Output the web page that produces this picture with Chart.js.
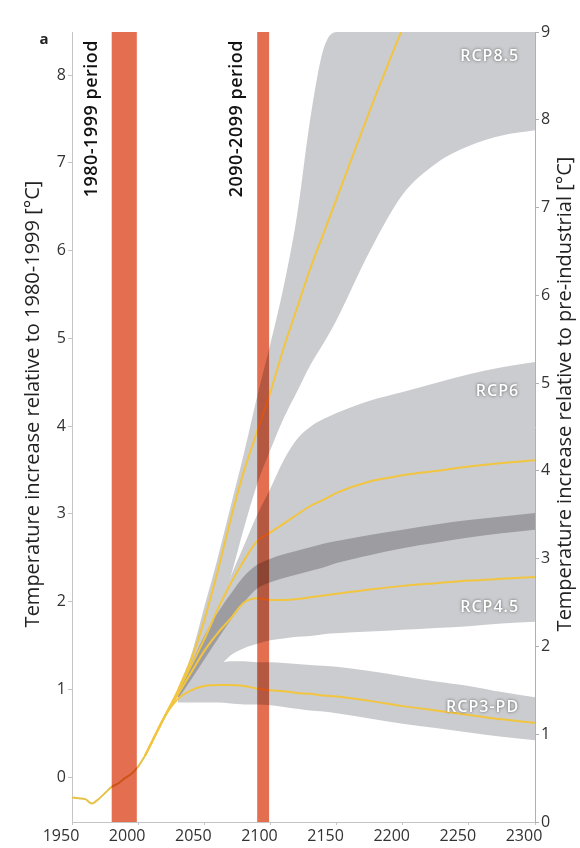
<!DOCTYPE html>
<html><head><meta charset="utf-8">
<script src="https://cdn.jsdelivr.net/npm/chart.js@4.4.1/dist/chart.umd.min.js"></script>
<style>html,body{margin:0;padding:0;background:#fff}</style>
</head><body>
<canvas id="c" width="580" height="848"></canvas>
<script>
// ---------- data (values in °C relative to pre-industrial, right axis) ----------
const histYears = [1950,1955,1960,1965,1970,1975,1980,1985,1990,1995,2000,2005];
const histTemp  = [0.28,0.27,0.26,0.21,0.26,0.33,0.40,0.44,0.50,0.55,0.63,0.75];

const projYears = [2005,2010,2020,2030,2040,2050,2060,2070,2080,2090,2100,2110,2120,2130,2140,2150,2175,2200,2225,2250,2275,2300];

const rcp85Mid   = [0.75,0.90,1.20,1.50,1.85,2.30,2.85,3.45,4.00,4.45,4.90,5.40,5.85,6.30,6.70,7.10,8.10,9.05,null,null,null,null];
const rcp85Upper = [null,null,null,1.52,1.90,2.45,3.00,3.60,4.20,4.85,5.45,6.10,6.90,8.00,8.80,9.00,9.00,9.00,9.00,9.00,9.00,9.00];
const rcp85Lower = [null,null,null,1.42,1.65,1.90,2.30,2.80,3.35,3.85,4.24,4.60,4.90,5.20,5.45,5.72,6.50,7.15,7.50,7.70,7.82,7.88];

const rcp6Mid    = [0.75,0.90,1.20,1.48,1.78,2.08,2.42,2.72,2.98,3.20,3.30,3.40,3.50,3.60,3.67,3.75,3.88,3.95,4.00,4.05,4.09,4.12];
const rcp6Upper  = [null,null,null,1.46,1.80,2.10,2.45,2.80,3.15,3.50,3.80,4.12,4.36,4.50,4.59,4.66,4.80,4.90,5.00,5.10,5.18,5.24];
const rcp6Lower  = [null,null,null,1.40,1.62,1.85,2.08,2.30,2.50,2.66,2.73,2.78,2.82,2.86,2.90,2.95,3.04,3.12,3.18,3.24,3.29,3.33];

const rcp45Mid   = [0.75,0.90,1.20,1.45,1.70,1.95,2.15,2.32,2.50,2.55,2.53,2.53,2.54,2.56,2.58,2.60,2.65,2.69,2.72,2.75,2.77,2.79];
const rcp45Upper = [null,null,null,1.46,1.80,2.12,2.38,2.60,2.80,2.93,3.00,3.05,3.09,3.13,3.17,3.20,3.27,3.33,3.39,3.44,3.48,3.52];
const rcp45Lower = [null,null,null,1.38,1.50,1.62,1.75,1.90,1.98,2.03,2.07,2.09,2.11,2.12,2.14,2.15,2.17,2.19,2.21,2.23,2.26,2.28];

const rcp3Mid    = [0.75,0.90,1.20,1.40,1.50,1.55,1.56,1.56,1.55,1.52,1.50,1.49,1.47,1.46,1.44,1.43,1.38,1.32,1.27,1.22,1.17,1.13];
const rcp3Upper  = [null,null,null,1.44,1.60,1.72,1.80,1.83,1.83,1.82,1.82,1.81,1.80,1.79,1.78,1.77,1.72,1.66,1.60,1.55,1.48,1.42];
const rcp3Lower  = [null,null,null,1.36,1.36,1.36,1.36,1.35,1.34,1.34,1.33,1.31,1.29,1.27,1.26,1.24,1.18,1.12,1.07,1.02,0.97,0.93];

const periodStart = [1980, 2090];
const periodEnd   = [1999, 2099];
const periodText  = ['1980-1999 period', '2090-2099 period'];

const scenarioNames = ['RCP8.5', 'RCP6', 'RCP4.5', 'RCP3-PD'];

const xTickStep = 50;
const leftTickValues  = [0,1,2,3,4,5,6,7,8];
const rightTickValues = [0,1,2,3,4,5,6,7,8,9];
const leftOffset = 0.51; // 1980-1999 mean above pre-industrial

// ---------- helpers ----------
const pts = (xs, ys) => xs.map((x,i)=>({x, y: ys[i]})).filter(p => p.y !== null);
const F = "'Open Sans', 'DejaVu Sans', sans-serif";
const LIGHT = '#cbcccf', DARK = '#9d9da1', YEL = '#f2c540', RED = 'rgb(228,110,80)';

function band(data, fillTarget, color) {
  return {data, fill: fillTarget, backgroundColor: color, borderWidth: 0, pointRadius: 0,
          cubicInterpolationMode: 'monotone', yAxisID: 'yR'};
}
function line(data, color) {
  return {data, fill: false, borderColor: color, borderWidth: 2, pointRadius: 0,
          cubicInterpolationMode: 'monotone', yAxisID: 'yR'};
}

const datasets = [
  band(pts(projYears, rcp45Upper), 4, DARK),          // 0 overlap RCP4.5 / RCP6
  band(pts(projYears, rcp85Upper), 2, LIGHT),         // 1
  band(pts(projYears, rcp85Lower), false, LIGHT),     // 2
  band(pts(projYears, rcp6Upper), 4, LIGHT),          // 3
  band(pts(projYears, rcp6Lower), false, LIGHT),      // 4
  band(pts(projYears, rcp45Upper), 6, LIGHT),         // 5
  band(pts(projYears, rcp45Lower), false, LIGHT),     // 6
  band(pts(projYears, rcp3Upper), 8, LIGHT),          // 7
  band(pts(projYears, rcp3Lower), false, LIGHT),      // 8
  line(pts(projYears, rcp85Mid), YEL),
  line(pts(projYears, rcp6Mid), YEL),
  line(pts(projYears, rcp45Mid), YEL),
  line(pts(projYears, rcp3Mid), YEL),
  line(pts(histYears, histTemp), '#e6c24a')
];

function vText(ctx, text, x, y, align) {
  ctx.save(); ctx.translate(x, y); ctx.rotate(-Math.PI/2);
  ctx.textAlign = align; ctx.textBaseline = 'middle';
  ctx.fillText(text, 0, 0); ctx.restore();
}

const decor = {
  id: 'decor',
  afterDatasetsDraw(chart) {
    const {ctx, chartArea: a, scales} = chart;
    const xs = scales.x, ys = scales.yR;
    // period bars
    ctx.save();
    ctx.beginPath(); ctx.rect(a.left, a.top, a.right - a.left, a.bottom - a.top); ctx.clip();
    ctx.globalCompositeOperation = 'multiply';
    ctx.fillStyle = RED;
    periodStart.forEach((s, i) => {
      const x0 = xs.getPixelForValue(s), x1 = xs.getPixelForValue(periodEnd[i]);
      ctx.fillRect(x0, a.top, x1 - x0, a.bottom - a.top);
    });
    ctx.restore();
    // scenario labels (data coordinates)
    const labelPos = [[2288, 8.72], [2288, 4.9], [2288, 2.45], [2288, 1.3]];
    ctx.save();
    ctx.font = `600 16px ${F}`;
    ctx.letterSpacing = '1px';
    ctx.fillStyle = '#ffffff';
    ctx.textAlign = 'right'; ctx.textBaseline = 'middle';
    ctx.shadowColor = 'rgba(60,60,60,0.8)'; ctx.shadowBlur = 3;
    scenarioNames.forEach((n, i) => {
      ctx.fillText(n, xs.getPixelForValue(labelPos[i][0]), ys.getPixelForValue(labelPos[i][1]));
    });
    ctx.restore();
  },
  afterDraw(chart) {
    const {ctx, chartArea: a, scales} = chart;
    const xs = scales.x;
    ctx.save();
    ctx.fillStyle = '#111';
    ctx.font = `600 18px ${F}`;
    ctx.letterSpacing = '0.5px';
    periodText.forEach((t, i) => {
      vText(ctx, t, xs.getPixelForValue(periodStart[i]) - 20, a.top + 8, 'right');
    });
    ctx.letterSpacing = '0px';
    ctx.font = `20px ${F}`;
    ctx.fillStyle = '#222';
    vText(ctx, 'Temperature increase relative to 1980-1999 [°C]', 33, 404, 'center');
    vText(ctx, 'Temperature increase relative to pre-industrial [°C]', 565, 394, 'center');
    ctx.font = `bold 15px ${F}`;
    ctx.textAlign = 'center'; ctx.textBaseline = 'middle';
    ctx.fillText('a', 44, 40);
    ctx.restore();
  }
};

const tickFont = {family: F, size: 16};
new Chart(document.getElementById('c'), {
  type: 'line',
  data: {datasets},
  plugins: [decor],
  options: {
    responsive: false, animation: false, devicePixelRatio: 1,
    layout: {padding: {top: 32, left: 0, right: 0, bottom: 0}},
    plugins: {legend: {display: false}, tooltip: {enabled: false}, filler: {drawTime: 'beforeDatasetsDraw'}},
    scales: {
      x: {type: 'linear', min: 1950, max: 2300,
          ticks: {stepSize: xTickStep, callback: v => String(v), labelOffset: -11, padding: 2,
                  font: tickFont, color: '#333', maxRotation: 0, autoSkip: false},
          grid: {drawOnChartArea: false, tickLength: 3, color: '#c4c4c4'},
          border: {color: '#c4c4c4'},
          afterFit: s => { s.height = 26; }},
      yL: {type: 'linear', position: 'left', min: -leftOffset, max: 9 - leftOffset,
           afterBuildTicks: s => { s.ticks = leftTickValues.map(v => ({value: v})); },
           ticks: {callback: v => String(v), font: tickFont, color: '#333', padding: 2},
           grid: {drawOnChartArea: false, tickLength: 4, color: '#c4c4c4'},
           border: {color: '#c4c4c4'},
           afterFit: s => { s.width = 72; }},
      yR: {type: 'linear', position: 'right', min: 0, max: 9,
           afterBuildTicks: s => { s.ticks = rightTickValues.map(v => ({value: v})); },
           ticks: {callback: v => String(v), font: tickFont, color: '#333', padding: 2},
           grid: {drawOnChartArea: false, tickLength: 4, color: '#b0b0b0'},
           border: {color: '#b0b0b0'},
           afterFit: s => { s.width = 45; }}
    }
  }
});
</script>
</body></html>
